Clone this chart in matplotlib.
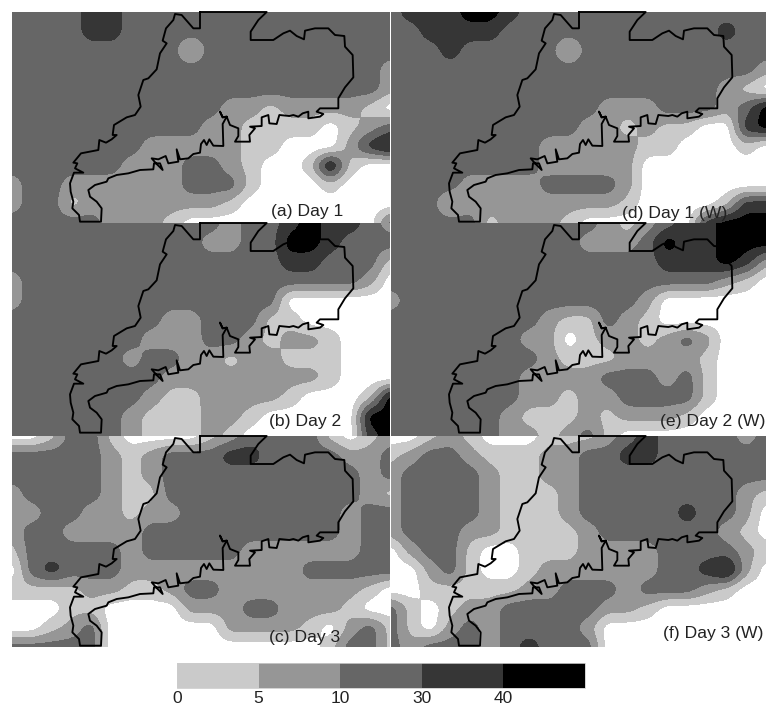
import matplotlib
matplotlib.use("Agg")
import matplotlib.pyplot as plt
import matplotlib.colors as mcolors
from matplotlib.cm import ScalarMappable
import numpy as np

plt.rcParams['font.family'] = ['Liberation Sans', 'DejaVu Sans']

W, L, M, D, K, B = -3, 3, 7, 20, 35, 45

day1 = [
    [D, D, D, D, K, K, D, D, D, D, D, D, D, D, D, D, D, D, D, D],
    [D, D, D, D, K, K, D, D, D, D, D, D, D, D, D, D, D, D, D, D],
    [D, D, D, D, D, D, D, D, D, L, D, D, D, D, D, D, D, D, D, D],
    [D, D, D, D, D, D, D, D, D, D, D, D, D, D, D, D, D, D, D, M],
    [D, D, D, D, D, D, D, D, D, D, D, D, D, D, D, D, D, D, D, M],
    [D, D, D, D, D, D, D, D, D, D, D, M, M, L, M, M, M, M, L, W],
    [D, D, D, D, D, D, D, D, D, D, M, M, L, L, L, L, W, L, M, D],
    [D, D, D, D, D, D, D, M, M, M, M, M, L, L, W, W, W, M, K, B],
    [D, D, D, D, D, D, M, M, M, D, D, M, L, W, W, L, B, L, W, W],
    [M, D, D, M, M, M, M, M, M, D, D, D, L, W, W, W, L, W, W, W],
    [M, D, D, L, M, M, M, M, M, M, M, L, W, W, W, W, W, W, W, W],
    [D, D, D, D, D, M, M, M, L, W, W, W, W, W, W, W, W, W, W, D],
]
day2 = [
    [D, D, D, D, D, D, D, D, D, D, D, M, D, D, K, B, K, K, D, M],
    [D, D, D, D, D, D, D, D, D, D, M, M, D, D, B, B, K, D, D, D],
    [D, D, D, D, D, D, D, D, D, D, D, D, D, D, K, K, D, D, D, L],
    [M, D, D, D, D, D, D, D, D, D, D, D, D, D, D, D, D, D, M, W],
    [M, D, D, D, D, D, D, D, D, D, D, D, D, D, W, W, W, W, W, W],
    [D, D, D, D, D, D, D, D, M, M, D, D, D, L, L, W, W, W, W, W],
    [D, D, D, D, D, D, D, M, M, M, D, D, M, L, M, M, L, W, W, W],
    [D, D, D, D, D, D, M, D, D, M, M, L, M, M, L, L, L, W, W, W],
    [D, D, D, D, D, D, D, D, M, M, M, M, M, M, M, M, L, W, W, W],
    [D, D, D, D, D, D, D, M, L, L, M, M, M, M, L, W, W, W, L, B],
    [D, D, D, D, D, D, M, L, L, L, M, M, L, W, W, W, W, W, B, B],
    [D, D, D, D, D, D, M, L, L, L, M, L, W, W, W, W, W, W, K, B],
]
day3 = [
    [W, W, L, D, D, L, W, W, W, W, L, M, D, D, D, D, L, W, L, M],
    [D, D, D, D, D, M, L, M, D, D, D, K, K, D, D, D, D, M, M, D],
    [D, D, D, D, D, M, L, M, D, D, D, D, D, D, D, D, D, D, M, D],
    [M, D, D, D, D, M, L, L, D, D, D, D, D, D, D, D, D, D, M, L],
    [M, M, D, D, M, M, L, M, M, D, D, D, D, D, D, D, D, M, D, D],
    [M, D, D, M, M, M, M, D, D, D, D, D, D, D, D, D, D, M, D, D],
    [L, D, D, D, D, D, M, D, D, D, D, D, M, M, M, M, M, M, D, D],
    [W, D, K, D, D, D, M, M, M, M, M, M, M, M, M, D, D, D, D, D],
    [L, L, L, L, M, M, L, L, M, D, D, M, M, M, M, M, M, M, L, W],
    [W, W, W, L, L, W, W, W, W, M, M, M, D, D, M, M, M, L, W, W],
    [W, W, L, M, D, W, W, W, W, W, W, M, M, M, M, L, W, M, D, L],
    [D, D, D, D, D, W, W, W, W, W, W, W, W, W, W, W, L, D, D, L],
]
day1_w = [
    [D, K, K, K, B, B, K, D, D, D, D, D, D, D, D, D, D, D, D, D],
    [D, D, K, K, K, K, D, D, D, D, D, D, D, D, D, D, D, K, D, D],
    [D, D, D, K, D, D, D, D, D, L, D, D, D, D, D, D, D, D, D, D],
    [D, D, D, D, D, D, D, D, D, D, D, D, D, D, D, D, D, D, D, M],
    [D, D, D, D, D, D, D, D, D, D, D, D, D, D, D, D, D, M, L, W],
    [D, D, D, D, D, D, D, D, D, D, D, M, M, M, D, D, D, M, D, B],
    [D, D, D, D, D, D, D, D, D, D, M, M, L, M, L, L, W, W, K, B],
    [D, D, D, D, D, D, D, D, M, M, M, M, M, L, L, W, W, W, L, W],
    [D, D, D, D, D, D, D, D, M, M, M, M, M, W, W, W, W, W, W, W],
    [D, D, D, D, M, M, M, M, D, D, D, D, M, W, W, W, W, W, W, W],
    [D, D, D, L, M, M, M, M, M, M, M, M, L, W, W, W, W, L, K, K],
    [D, D, D, D, D, L, M, M, M, L, W, W, W, W, W, W, K, B, B, B],
]
day2_w = [
    [D, D, D, D, D, D, D, D, D, D, D, M, L, M, D, K, K, B, B, B],
    [D, D, D, D, D, D, D, D, D, D, M, M, M, D, B, K, K, B, B, B],
    [D, D, D, D, D, D, D, D, D, D, D, D, D, D, K, K, K, B, K, M],
    [D, D, D, D, D, D, D, D, D, D, D, D, D, D, D, D, D, M, L, W],
    [M, D, D, D, D, D, D, D, D, D, D, D, D, M, W, W, W, W, W, W],
    [D, D, D, D, D, D, D, D, M, L, L, D, M, L, W, W, W, W, W, W],
    [D, D, D, D, D, D, D, M, M, W, L, M, M, L, M, D, M, W, W, W],
    [D, D, D, D, D, D, D, D, M, L, L, L, M, M, M, M, L, W, W, W],
    [D, D, D, D, D, D, D, M, M, M, M, D, D, D, M, D, L, W, W, W],
    [D, D, D, D, D, D, D, M, M, L, M, M, D, D, D, D, L, W, W, W],
    [D, D, D, D, D, D, M, L, L, L, M, L, M, M, M, L, W, W, W, W],
    [D, D, D, D, D, D, M, M, L, M, D, L, W, W, W, W, W, W, W, W],
]
day3_w = [
    [W, W, L, M, L, W, W, W, L, L, L, M, D, K, D, D, D, D, M, D],
    [L, M, D, D, M, L, L, L, M, M, D, D, K, K, D, D, D, D, D, D],
    [M, D, D, D, D, M, L, L, M, M, D, D, D, D, D, D, D, D, D, D],
    [M, D, D, D, D, M, L, L, L, M, D, D, D, D, D, D, D, D, M, L],
    [M, D, D, D, D, M, L, L, L, M, D, D, D, D, D, K, D, D, M, W],
    [M, D, D, D, M, M, L, L, L, L, M, D, D, D, D, D, D, M, L, W],
    [W, M, D, D, L, W, W, L, L, L, M, M, M, M, D, D, D, D, M, L],
    [W, W, M, D, L, W, W, L, M, M, M, M, M, M, D, D, K, B, M, W],
    [W, W, L, L, L, L, L, M, M, D, D, D, M, D, D, D, M, L, W, W],
    [D, L, W, L, M, M, D, D, D, D, D, M, M, L, W, W, W, W, W, W],
    [D, L, W, M, D, M, D, D, D, D, M, W, W, W, W, W, W, W, W, W],
    [D, M, D, D, D, M, D, K, D, D, D, W, W, W, W, W, W, W, W, W],
]

panel_fields = [day1, day2, day3, day1_w, day2_w, day3_w]
panel_labels = ['(a) Day 1', '(b) Day 2', '(c) Day 3',
                '(d) Day 1 (W)', '(e) Day 2 (W)', '(f) Day 3 (W)']
label_x = [920, 915, 915, 886, 1002, 1002]
label_y = [635, 631, 640, 641, 631, 628]

levels = [0, 5, 10, 30, 40, 50]
grey_white = '#ffffff'
greys = ['#cacaca', '#969696', '#666666', '#363636', '#000000']

# state border in map units, same for all six panels
border_x = [600, 800, 775, 752, 752, 820, 850, 870, 890, 912, 915, 945, 985, 1005,
            1033, 1035, 1058, 1060, 1035, 1015, 1015, 960, 950, 970, 960, 925, 925, 908,
            895, 880, 868, 838, 830, 808, 805, 785, 785, 750, 765, 748, 750, 705, 715,
            715, 690, 680, 668, 660, 668, 680, 668, 670, 640, 628, 620, 612, 603, 600,
            580, 565, 540, 530, 535, 505, 497, 475, 455, 468, 488, 480, 462, 460, 420,
            385, 350, 325, 320, 285, 265, 270, 290, 305, 303, 240, 237, 217, 220, 212,
            210, 222, 250, 225, 232, 220, 243, 295, 298, 318, 335, 350, 338, 342, 380,
            405, 422, 415, 430, 445, 470, 480, 500, 488, 498, 520, 525, 545, 580, 600, 600]
border_y = [36, 36, 60, 95, 120, 120, 100, 92, 108, 118, 92, 85, 85, 105,
            108, 140, 165, 232, 262, 295, 325, 325, 335, 342, 350, 355, 335, 340,
            350, 345, 348, 345, 372, 370, 345, 352, 378, 380, 385, 405, 425, 425, 408,
            385, 375, 350, 352, 335, 352, 350, 372, 438, 437, 418, 435, 420, 432, 458,
            462, 475, 478, 448, 485, 490, 468, 478, 475, 490, 510, 490, 490, 508, 510,
            520, 525, 535, 545, 555, 570, 590, 605, 625, 665, 665, 645, 625, 605, 575,
            550, 518, 518, 505, 490, 488, 460, 450, 420, 428, 418, 405, 405, 375, 352,
            345, 320, 285, 240, 235, 208, 160, 130, 122, 85, 60, 42, 45, 85, 85, 36]

bar_ticks = [0, 5, 10, 30, 40]


def smooth_field(values, xs, ys, xf, yf):
    # work on class index scale so the bands keep their place between nodes
    edges = [-5] + levels
    idx = np.interp(np.array(values, dtype=float), edges, np.arange(len(edges)))
    rows = np.array([np.interp(xf, xs, r) for r in idx])
    fine = np.array([np.interp(yf, ys, c) for c in rows.T]).T
    n = 19
    kernel = np.hanning(n + 2)[1:-1]
    kernel = kernel / kernel.sum()
    pad = np.pad(fine, n, mode='edge')
    pad = np.apply_along_axis(lambda v: np.convolve(v, kernel, mode='same'), 0, pad)
    pad = np.apply_along_axis(lambda v: np.convolve(v, kernel, mode='same'), 1, pad)
    return pad[n:-n, n:-n]


def draw_panel(ax, values, text, tx, ty):
    x0, x1 = ax.get_xlim()
    y1, y0 = ax.get_ylim()
    n_rows, n_cols = len(values), len(values[0])
    xs = np.linspace(x0, x1, n_cols)
    ys = np.linspace(y0, y1, n_rows)
    xf = np.linspace(x0, x1, 381)
    yf = np.linspace(y0, y1, 221)
    field = smooth_field(values, xs, ys, xf, yf)
    ax.contourf(xf, yf, field, levels=np.arange(7),
                colors=[grey_white] + greys, extend='both')
    ax.plot(border_x, border_y, color='black', lw=1.35, clip_on=False, zorder=5)
    ax.text(tx, ty, text, fontsize=12.6, color='#222222', ha='center', va='center', zorder=6)
    ax.axis('off')


W_PX, H_PX = 766, 707
fig = plt.figure(figsize=(W_PX / 100, H_PX / 100), dpi=100)

col_left = [12, 391]
col_width = [378, 375]
row_top = [12, 223, 436]
row_height = [211, 213, 211]

for k in range(6):
    c, r = k // 3, k % 3
    ax = fig.add_axes([col_left[c] / W_PX, 1 - (row_top[r] + row_height[r]) / H_PX,
                       col_width[c] / W_PX, row_height[r] / H_PX])
    ax.set_xlim(36, 36 + col_width[c] * 3)
    ax.set_ylim(36 + row_height[r] * 3, 36)
    draw_panel(ax, panel_fields[k], panel_labels[k], label_x[k], label_y[k])

cax = fig.add_axes([177 / W_PX, 1 - 688 / H_PX, 408 / W_PX, 25 / H_PX])
norm = mcolors.BoundaryNorm(levels, 5)
cmap = mcolors.ListedColormap(greys)
cb = fig.colorbar(ScalarMappable(norm=norm, cmap=cmap), cax=cax, orientation='horizontal',
                  spacing='uniform', ticks=bar_ticks)
cb.minorticks_off()
cb.ax.tick_params(length=0, pad=2, labelsize=12.5, labelcolor='#222222')
cb.outline.set_edgecolor('#cccccc')
cb.outline.set_linewidth(0.6)

fig.savefig('out.png', dpi=100)
